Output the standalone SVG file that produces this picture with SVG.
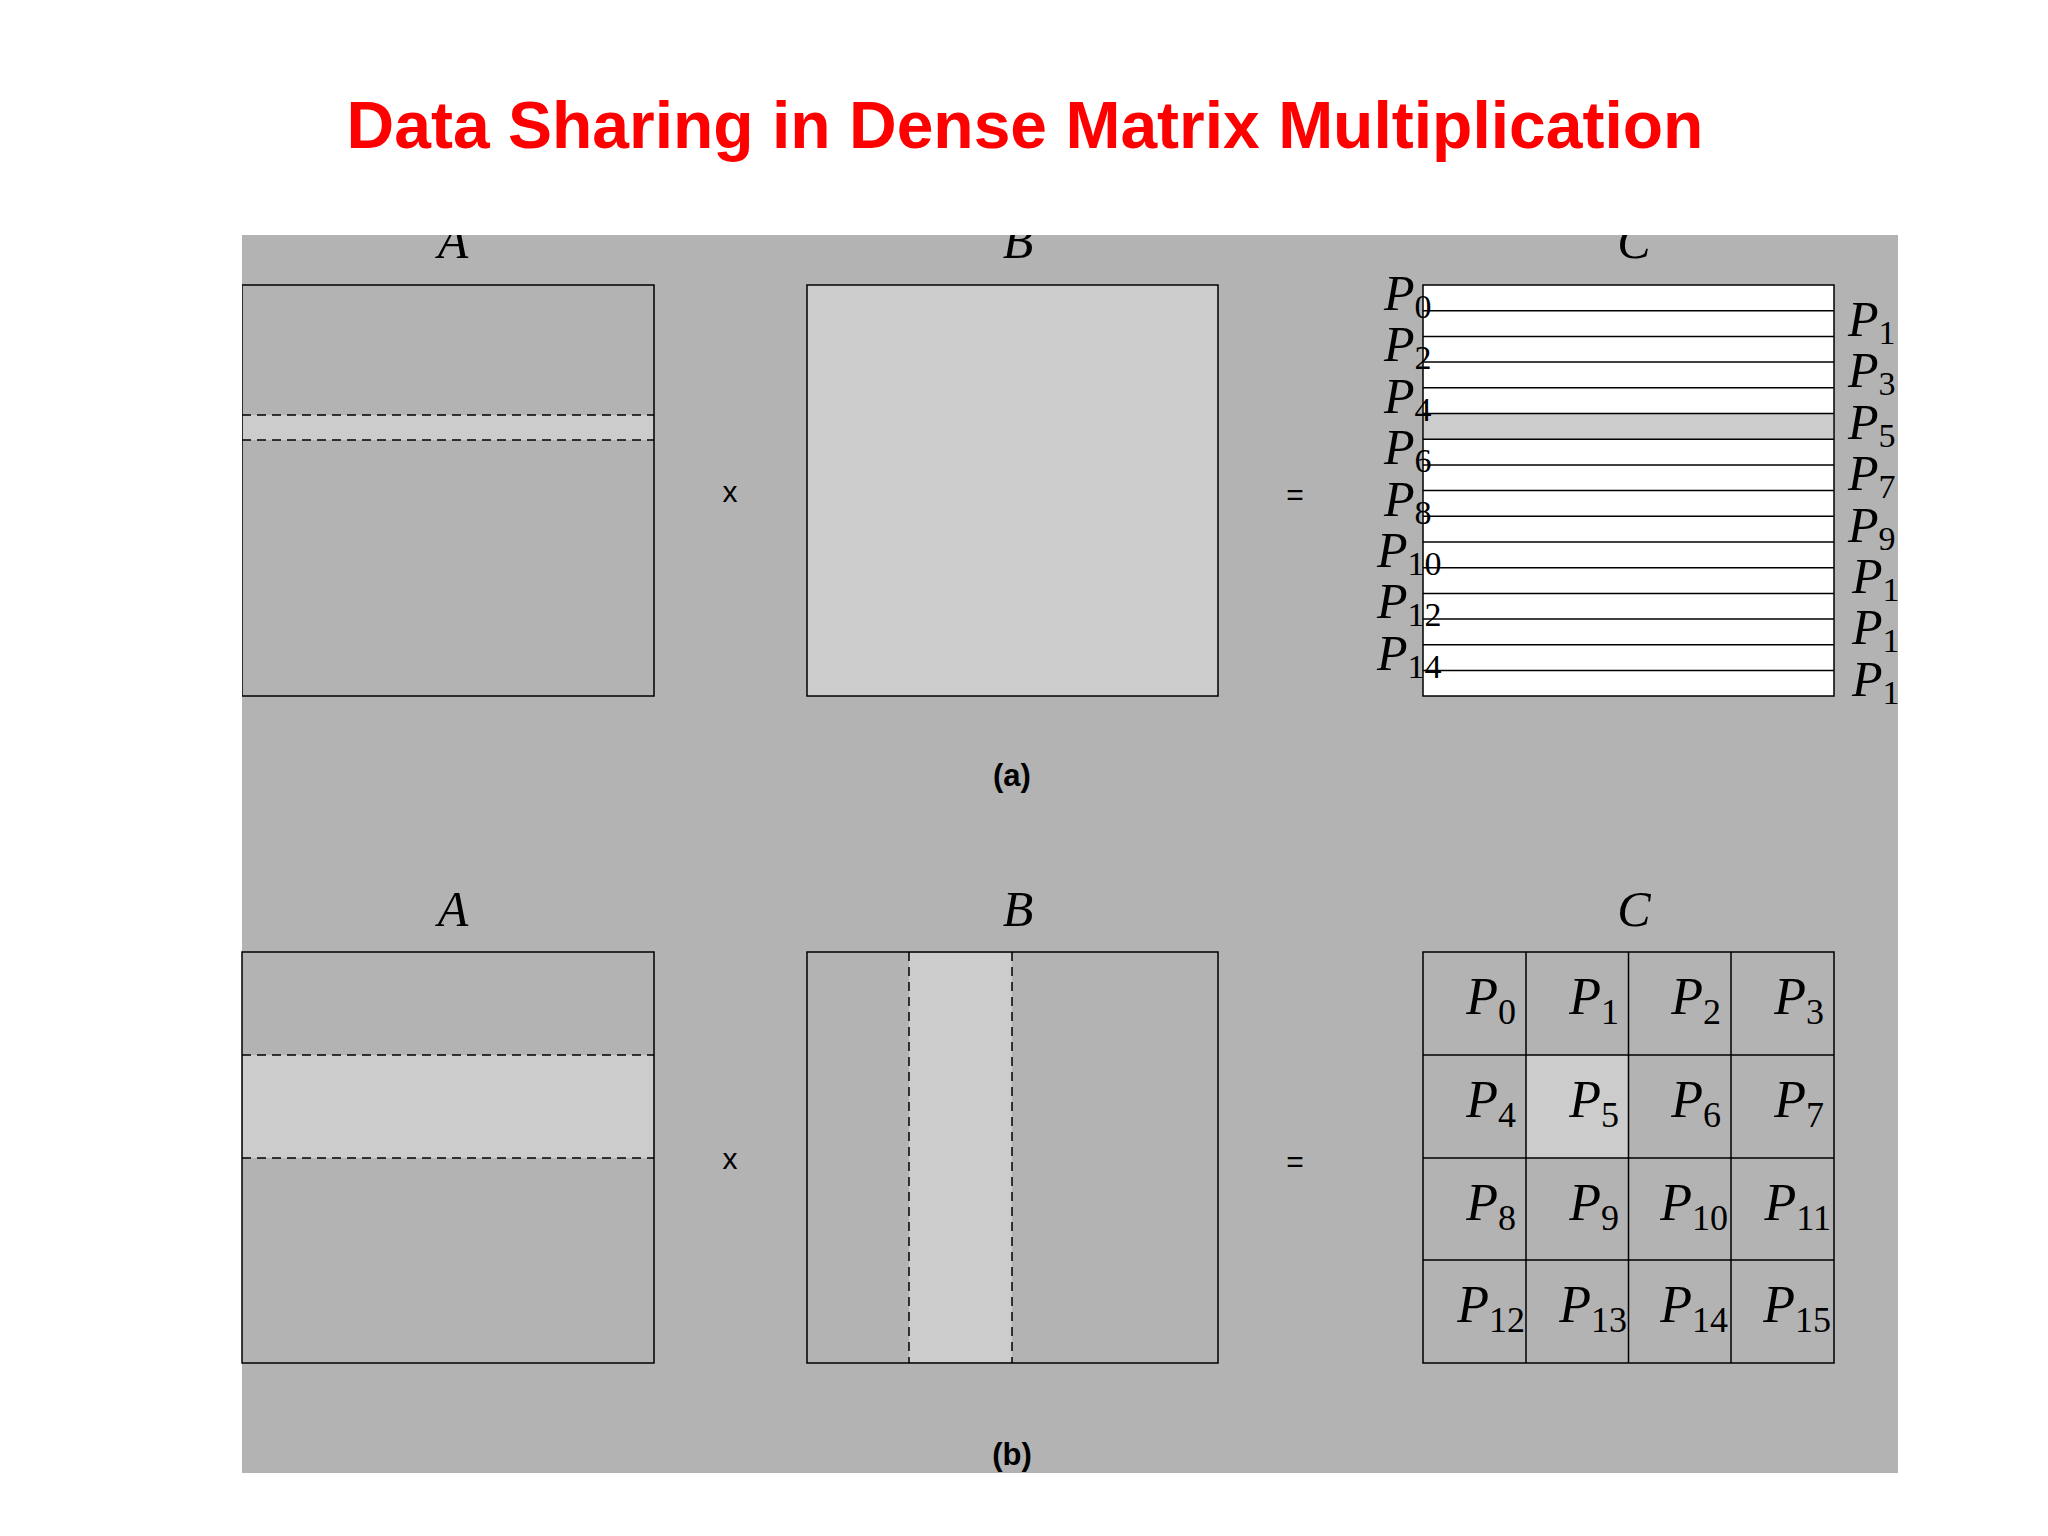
<svg xmlns="http://www.w3.org/2000/svg" width="2048" height="1536" viewBox="0 0 2048 1536">
<style>
.m{font-family:"Liberation Serif",serif;font-style:italic;fill:#000}
.s{font-style:normal}
.box{stroke:#000;stroke-width:1.5}
.dash{stroke:#000;stroke-width:1.5;stroke-dasharray:9,6;fill:none}
.ln{stroke:#000;stroke-width:1.5}
.op{font-family:"Liberation Sans",sans-serif;font-size:30px;fill:#000;text-anchor:middle}
.cap{font-family:"Liberation Sans",sans-serif;font-weight:bold;font-size:31px;fill:#000;text-anchor:middle}
</style>
<defs><clipPath id="clip"><rect x="242" y="235" width="1656" height="1238"/></clipPath></defs>
<rect width="2048" height="1536" fill="#fff"/>
<text x="1025" y="148" font-family="Liberation Sans,sans-serif" font-weight="bold" font-size="66" fill="#f00" text-anchor="middle">Data Sharing in Dense Matrix Multiplication</text>
<rect x="242" y="235" width="1656" height="1238" fill="#b3b3b3"/>
<g clip-path="url(#clip)">
<g id="labels-a" font-size="50">
<text class="m" x="453" y="258" text-anchor="middle" font-size="50">A</text>
<text class="m" x="1018" y="258" text-anchor="middle" font-size="50">B</text>
<text class="m" x="1634" y="258" text-anchor="middle" font-size="50">C</text>
</g>
<g id="A1"><rect class="box" x="242" y="285" width="412" height="411" fill="#b3b3b3"/><rect x="243" y="415" width="410" height="25" fill="#ccc"/><line class="dash" x1="242" y1="415" x2="654" y2="415"/><line class="dash" x1="242" y1="440" x2="654" y2="440"/></g>
<text class="op" x="730" y="502">x</text>
<g id="B1"><rect class="box" x="807" y="285" width="411" height="411" fill="#ccc"/></g>
<text class="op" x="1295" y="505">=</text>
<g id="C1">
<rect class="box" x="1423" y="285" width="411" height="411" fill="#fff"/>
<rect x="1424" y="413.5" width="409" height="25.7" fill="#ccc"/>
<g class="ln">
<line x1="1423" y1="310.7" x2="1834" y2="310.7"/><line x1="1423" y1="336.4" x2="1834" y2="336.4"/><line x1="1423" y1="362.1" x2="1834" y2="362.1"/><line x1="1423" y1="387.8" x2="1834" y2="387.8"/><line x1="1423" y1="413.5" x2="1834" y2="413.5"/><line x1="1423" y1="439.2" x2="1834" y2="439.2"/><line x1="1423" y1="464.9" x2="1834" y2="464.9"/><line x1="1423" y1="490.6" x2="1834" y2="490.6"/><line x1="1423" y1="516.3" x2="1834" y2="516.3"/><line x1="1423" y1="542" x2="1834" y2="542"/><line x1="1423" y1="567.7" x2="1834" y2="567.7"/><line x1="1423" y1="593.4" x2="1834" y2="593.4"/><line x1="1423" y1="619.1" x2="1834" y2="619.1"/><line x1="1423" y1="644.8" x2="1834" y2="644.8"/><line x1="1423" y1="670.5" x2="1834" y2="670.5"/>
</g>
</g>
<g id="C1-left" font-size="50">
<text class="m" x="1384" y="310">P<tspan class="s" font-size="34" dy="8">0</tspan></text>
<text class="m" x="1384" y="361">P<tspan class="s" font-size="34" dy="8">2</tspan></text>
<text class="m" x="1384" y="413">P<tspan class="s" font-size="34" dy="8">4</tspan></text>
<text class="m" x="1384" y="464">P<tspan class="s" font-size="34" dy="8">6</tspan></text>
<text class="m" x="1384" y="516">P<tspan class="s" font-size="34" dy="8">8</tspan></text>
<text class="m" x="1377" y="567">P<tspan class="s" font-size="34" dy="8">10</tspan></text>
<text class="m" x="1377" y="618">P<tspan class="s" font-size="34" dy="8">12</tspan></text>
<text class="m" x="1377" y="670">P<tspan class="s" font-size="34" dy="8">14</tspan></text>
</g>
<g id="C1-right" font-size="50">
<text class="m" x="1848" y="336">P<tspan class="s" font-size="34" dy="8">1</tspan></text>
<text class="m" x="1848" y="387">P<tspan class="s" font-size="34" dy="8">3</tspan></text>
<text class="m" x="1848" y="439">P<tspan class="s" font-size="34" dy="8">5</tspan></text>
<text class="m" x="1848" y="490">P<tspan class="s" font-size="34" dy="8">7</tspan></text>
<text class="m" x="1848" y="542">P<tspan class="s" font-size="34" dy="8">9</tspan></text>
<text class="m" x="1852" y="593">P<tspan class="s" font-size="34" dy="8">11</tspan></text>
<text class="m" x="1852" y="644">P<tspan class="s" font-size="34" dy="8">13</tspan></text>
<text class="m" x="1852" y="696">P<tspan class="s" font-size="34" dy="8">15</tspan></text>
</g>
</g>
<text class="cap" x="1012" y="786">(a)</text>
<g id="labels-b">
<text class="m" x="453" y="926" text-anchor="middle" font-size="50">A</text>
<text class="m" x="1018" y="926" text-anchor="middle" font-size="50">B</text>
<text class="m" x="1634" y="926" text-anchor="middle" font-size="50">C</text>
</g>
<g id="A2"><rect class="box" x="242" y="952" width="412" height="411" fill="#b3b3b3"/><rect x="243" y="1055" width="410" height="103" fill="#ccc"/><line class="dash" x1="242" y1="1055" x2="654" y2="1055"/><line class="dash" x1="242" y1="1158" x2="654" y2="1158"/></g>
<text class="op" x="730" y="1169">x</text>
<g id="B2"><rect class="box" x="807" y="952" width="411" height="411" fill="#b3b3b3"/><rect x="909" y="953" width="103" height="409" fill="#ccc"/><line class="dash" x1="909" y1="952" x2="909" y2="1363"/><line class="dash" x1="1012" y1="952" x2="1012" y2="1363"/></g>
<text class="op" x="1295" y="1172">=</text>
<g id="C2">
<rect class="box" x="1423" y="952" width="411" height="411" fill="#b3b3b3"/>
<rect x="1526" y="1055" width="103" height="103" fill="#ccc"/>
<g class="ln"><line x1="1526" y1="952" x2="1526" y2="1363"/><line x1="1628.5" y1="952" x2="1628.5" y2="1363"/><line x1="1731" y1="952" x2="1731" y2="1363"/><line x1="1423" y1="1055" x2="1834" y2="1055"/><line x1="1423" y1="1158" x2="1834" y2="1158"/><line x1="1423" y1="1260" x2="1834" y2="1260"/></g>
<g font-size="52" text-anchor="end">
<text class="m" x="1516" y="1014">P<tspan class="s" font-size="36" dy="10">0</tspan></text>
<text class="m" x="1619" y="1014">P<tspan class="s" font-size="36" dy="10">1</tspan></text>
<text class="m" x="1721" y="1014">P<tspan class="s" font-size="36" dy="10">2</tspan></text>
<text class="m" x="1824" y="1014">P<tspan class="s" font-size="36" dy="10">3</tspan></text>
<text class="m" x="1516" y="1117">P<tspan class="s" font-size="36" dy="10">4</tspan></text>
<text class="m" x="1619" y="1117">P<tspan class="s" font-size="36" dy="10">5</tspan></text>
<text class="m" x="1721" y="1117">P<tspan class="s" font-size="36" dy="10">6</tspan></text>
<text class="m" x="1824" y="1117">P<tspan class="s" font-size="36" dy="10">7</tspan></text>
<text class="m" x="1516" y="1220">P<tspan class="s" font-size="36" dy="10">8</tspan></text>
<text class="m" x="1619" y="1220">P<tspan class="s" font-size="36" dy="10">9</tspan></text>
<text class="m" x="1728" y="1220">P<tspan class="s" font-size="36" dy="10">10</tspan></text>
<text class="m" x="1831" y="1220">P<tspan class="s" font-size="36" dy="10">11</tspan></text>
<text class="m" x="1525" y="1322">P<tspan class="s" font-size="36" dy="10">12</tspan></text>
<text class="m" x="1627" y="1322">P<tspan class="s" font-size="36" dy="10">13</tspan></text>
<text class="m" x="1728" y="1322">P<tspan class="s" font-size="36" dy="10">14</tspan></text>
<text class="m" x="1831" y="1322">P<tspan class="s" font-size="36" dy="10">15</tspan></text>
</g>
</g>
<text class="cap" x="1012" y="1465">(b)</text>
</svg>
